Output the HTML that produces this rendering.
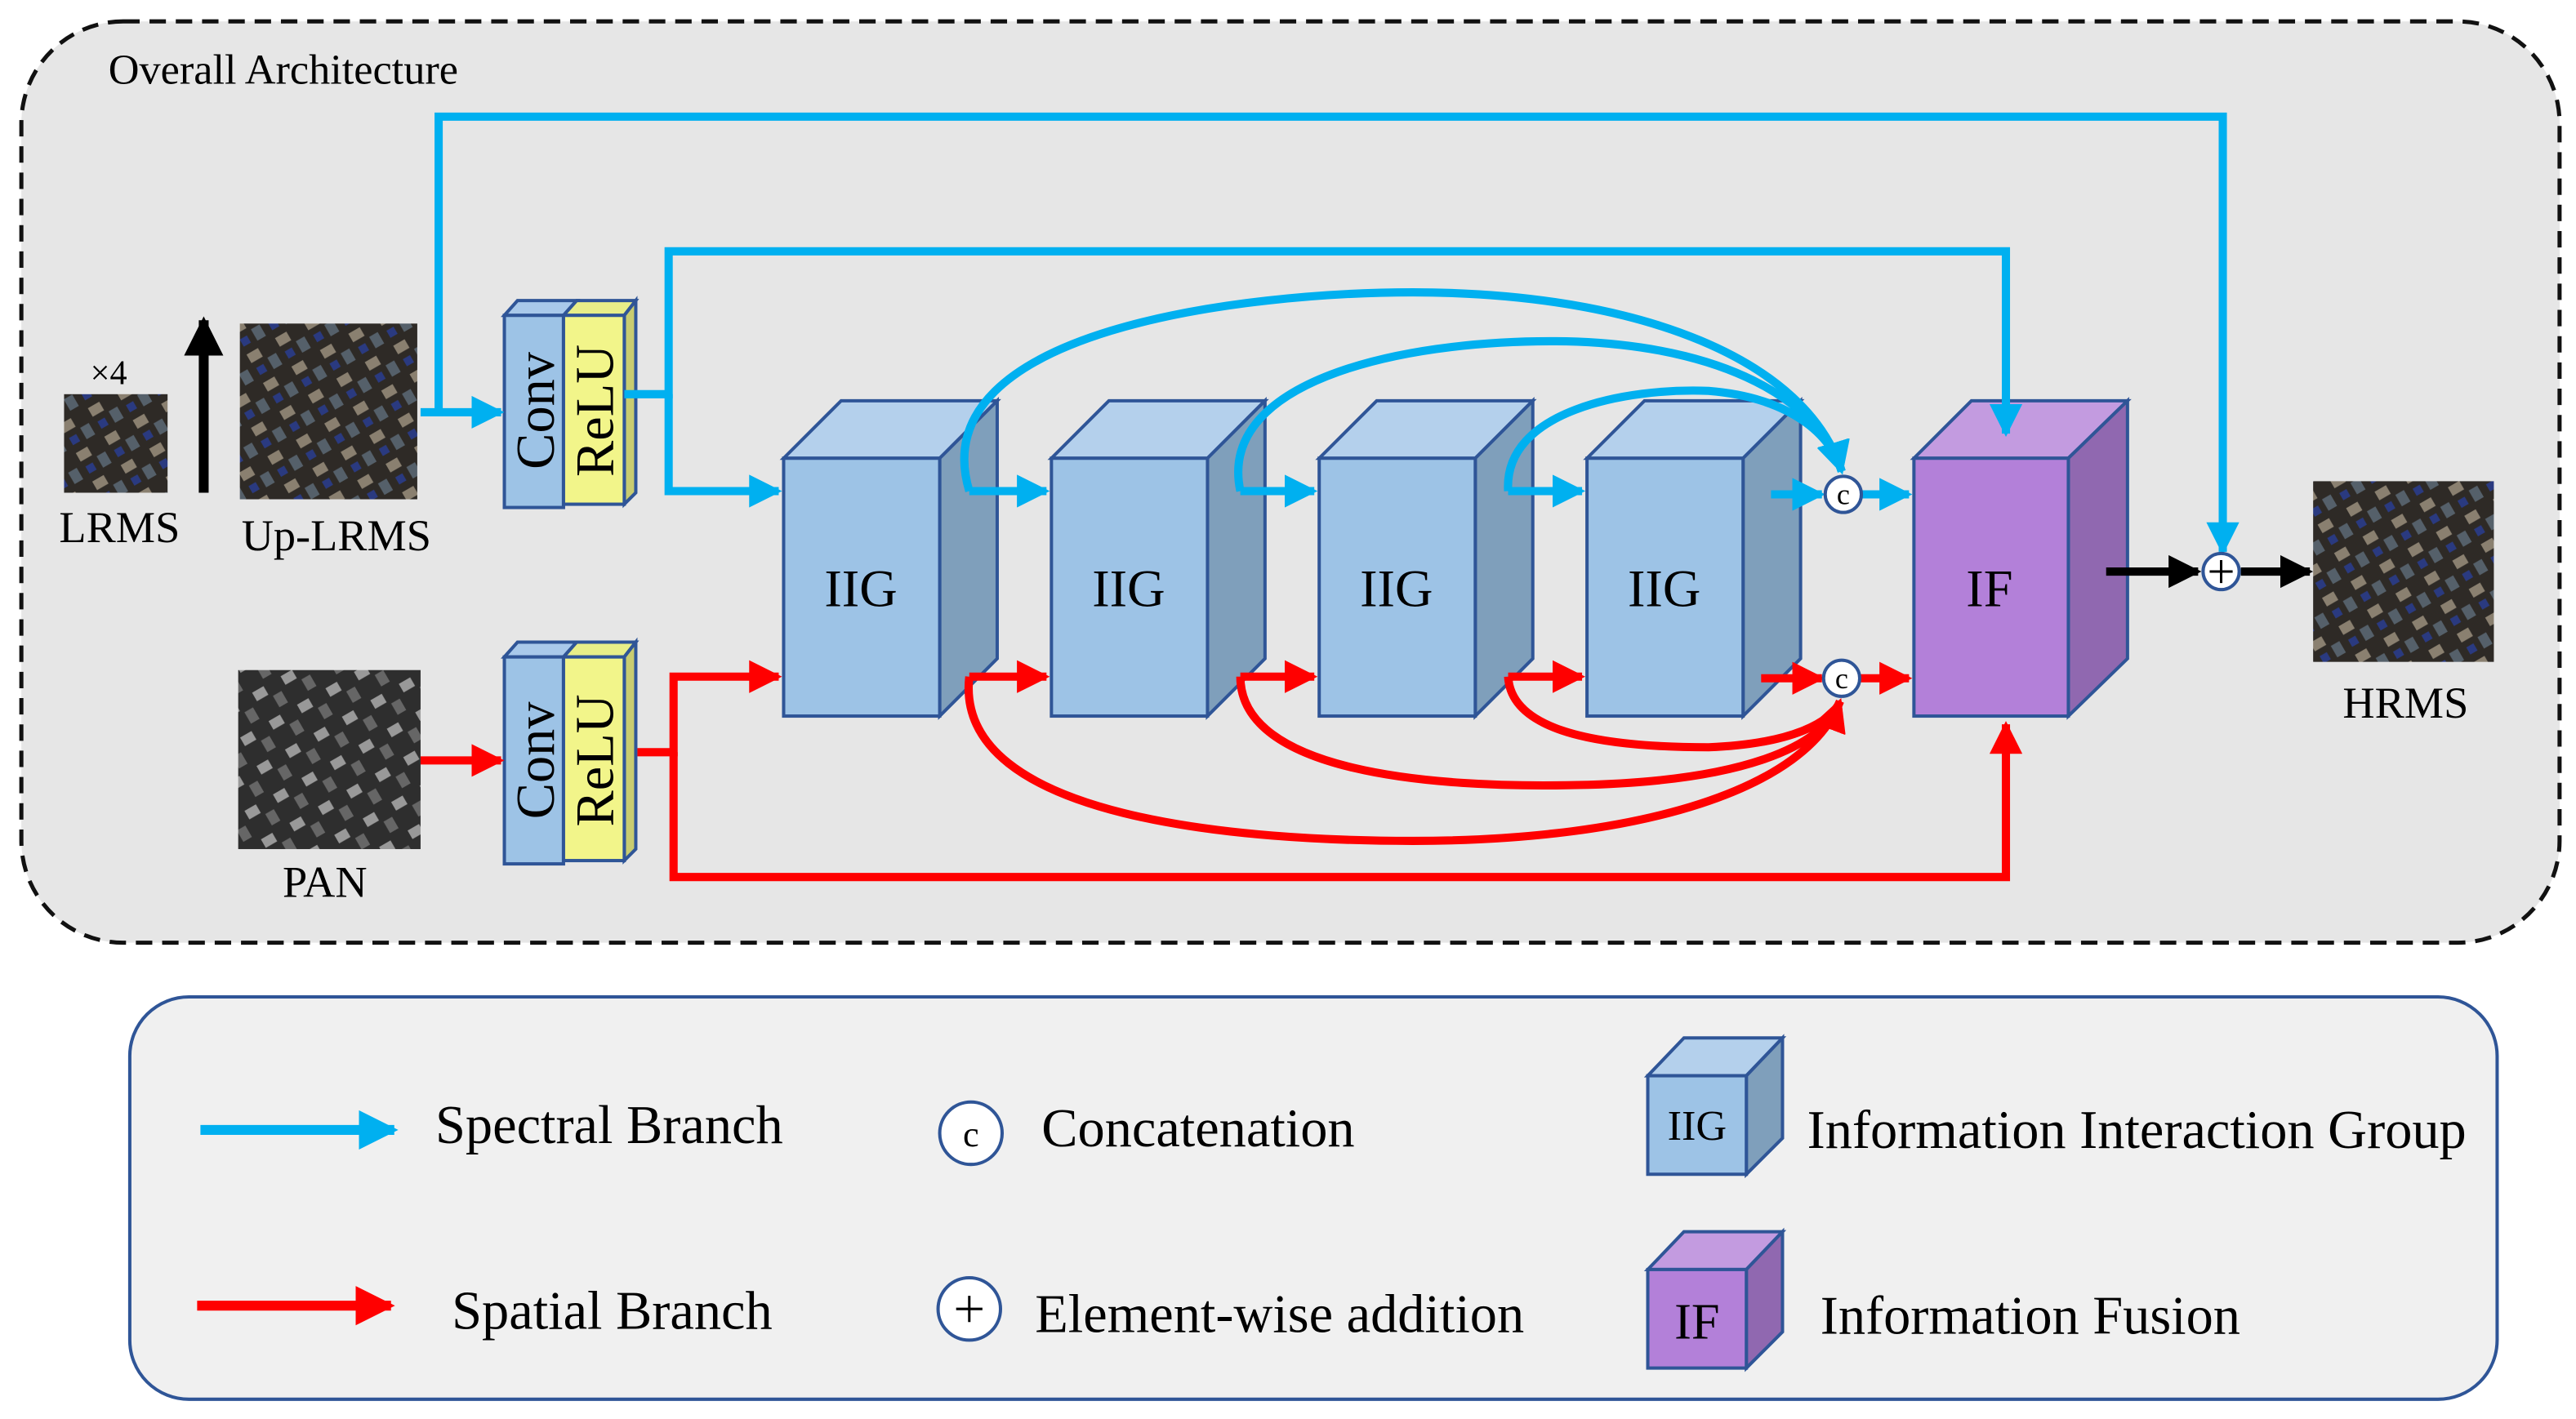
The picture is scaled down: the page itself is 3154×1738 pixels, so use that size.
<!DOCTYPE html>
<html><head><meta charset="utf-8"><style>html,body{margin:0;padding:0;background:#fff}svg{display:block}</style></head>
<body>
<svg width="3154" height="1738" viewBox="0 0 1568 864" xmlns="http://www.w3.org/2000/svg" font-family="'Liberation Serif', serif">
<defs>
<marker id="ab" viewBox="0 0 10 10" refX="9" refY="5" markerWidth="4" markerHeight="4" orient="auto" markerUnits="strokeWidth"><path d="M0,0L10,5L0,10z" fill="#00b0f0"/></marker>
<marker id="ar" viewBox="0 0 10 10" refX="9" refY="5" markerWidth="4" markerHeight="4" orient="auto" markerUnits="strokeWidth"><path d="M0,0L10,5L0,10z" fill="#ff0000"/></marker>
<marker id="ak" viewBox="0 0 10 10" refX="9" refY="5" markerWidth="4" markerHeight="4" orient="auto" markerUnits="strokeWidth"><path d="M0,0L10,5L0,10z" fill="#000"/></marker>
<pattern id="img" width="20" height="20" patternUnits="userSpaceOnUse" patternTransform="rotate(-30)">
<rect width="20" height="20" fill="#2e2a26"/><rect x="2" y="2" width="8" height="6" fill="#8a8070"/><rect x="12" y="10" width="6" height="8" fill="#55606a"/><rect x="3" y="12" width="5" height="5" fill="#2a3a80"/></pattern>
<pattern id="pan" width="20" height="20" patternUnits="userSpaceOnUse" patternTransform="rotate(-30)">
<rect width="20" height="20" fill="#2e2e2e"/><rect x="2" y="2" width="8" height="6" fill="#999"/><rect x="12" y="10" width="6" height="8" fill="#666"/></pattern>
</defs>
<rect x="13" y="13" width="1545" height="561" rx="62" fill="#e6e6e6" stroke="#111" stroke-width="2.5" stroke-dasharray="10,6"/>
<text x="66" y="51" font-size="26">Overall Architecture</text>

<rect x="39" y="240" width="63" height="60" fill="url(#img)"/>
<rect x="146" y="197" width="108" height="107" fill="url(#img)"/>
<rect x="145" y="408" width="111" height="109" fill="url(#pan)"/>
<rect x="1408" y="293" width="110" height="110" fill="url(#img)"/>
<text x="55" y="234" font-size="21">×4</text>
<text x="36" y="330" font-size="27">LRMS</text>
<text x="147" y="335" font-size="27">Up-LRMS</text>
<text x="172" y="546" font-size="27">PAN</text>
<text x="1426" y="437" font-size="27">HRMS</text>
<line x1="124" y1="300" x2="124" y2="195" stroke="#000" stroke-width="6" marker-end="url(#ak)"/>

<g stroke="#2f5597" stroke-width="2">
<polygon points="307,192 315,183 351,183 343,192" fill="#a9c9ea"/>
<polygon points="343,192 351,183 387,183 380,192" fill="#e8ee88"/>
<polygon points="380,192 387,183 387,300 380,307" fill="#c8cc70"/>
<rect x="307" y="192" width="36" height="117" fill="#9dc3e6"/>
<rect x="343" y="192" width="37" height="115" fill="#f2f58a"/>
<polygon points="307,400 315,391 351,391 343,400" fill="#a9c9ea"/>
<polygon points="343,400 351,391 387,391 380,400" fill="#e8ee88"/>
<polygon points="380,400 387,391 387,517 380,524" fill="#c8cc70"/>
<rect x="307" y="400" width="36" height="126" fill="#9dc3e6"/>
<rect x="343" y="400" width="37" height="124" fill="#f2f58a"/>
</g>
<g font-size="33" text-anchor="middle">
<text transform="translate(337,250) rotate(-90)">Conv</text>
<text transform="translate(373,250) rotate(-90)">ReLU</text>
<text transform="translate(337,463) rotate(-90)">Conv</text>
<text transform="translate(373,463) rotate(-90)">ReLU</text>
</g>

<g stroke="#2f5597" stroke-width="2">
<g id="b1"><polygon points="477,279 512,244 607,244 572,279" fill="#b4d0ec"/><polygon points="572,279 607,244 607,401 572,436" fill="#7f9fbb"/><rect x="477" y="279" width="95" height="157" fill="#9dc3e6"/></g>
<use href="#b1" x="163"/><use href="#b1" x="326"/><use href="#b1" x="489"/>
<polygon points="1165,279 1200,244 1295,244 1259,279" fill="#c39be0"/><polygon points="1259,279 1295,244 1295,401 1259,436" fill="#9068b0"/><rect x="1165" y="279" width="94" height="157" fill="#b380d9"/>
</g>
<g font-size="32" text-anchor="middle">
<text x="524" y="369">IIG</text><text x="687" y="369">IIG</text><text x="850" y="369">IIG</text><text x="1013" y="369">IIG</text><text x="1211" y="369">IF</text>
</g>

<g fill="none" stroke="#00b0f0" stroke-width="5">
<line x1="256" y1="251" x2="305" y2="251" marker-end="url(#ab)"/>
<polyline points="267,251 267,71 1353,71 1353,336" marker-end="url(#ab)"/>
<polyline points="380,240 407,240 407,153 1221,153 1221,264" marker-end="url(#ab)"/>
<polyline points="407,240 407,299 474,299" marker-end="url(#ab)"/>
<line x1="590" y1="299" x2="637" y2="299" marker-end="url(#ab)"/>
<line x1="755" y1="299" x2="800" y2="299" marker-end="url(#ab)"/>
<line x1="918" y1="299" x2="963" y2="299" marker-end="url(#ab)"/>
<line x1="1078" y1="301" x2="1109" y2="301" marker-end="url(#ab)"/>
<line x1="1133" y1="301" x2="1162" y2="301" marker-end="url(#ab)"/>
<path d="M590,299 C560,200 760,178 860,178 C1000,178 1100,220 1121,287" marker-end="url(#ab)"/>
<path d="M755,299 C740,230 860,205 960,208 C1060,212 1110,250 1121,287" marker-end="url(#ab)"/>
<path d="M918,299 C915,250 990,236 1040,238 C1090,242 1115,265 1121,287" marker-end="url(#ab)"/>
</g>
<g fill="none" stroke="#ff0000" stroke-width="5">
<line x1="256" y1="463" x2="305" y2="463" marker-end="url(#ar)"/>
<polyline points="388,458 410,458 410,412 474,412" marker-end="url(#ar)"/>
<polyline points="410,458 410,534 1221,534 1221,441" marker-end="url(#ar)"/>
<line x1="590" y1="412" x2="637" y2="412" marker-end="url(#ar)"/>
<line x1="755" y1="412" x2="800" y2="412" marker-end="url(#ar)"/>
<line x1="918" y1="412" x2="963" y2="412" marker-end="url(#ar)"/>
<line x1="1072" y1="413" x2="1109" y2="413" marker-end="url(#ar)"/>
<line x1="1132" y1="413" x2="1162" y2="413" marker-end="url(#ar)"/>
<path d="M590,412 C580,500 760,512 860,512 C1000,512 1100,480 1120,427" marker-end="url(#ar)"/>
<path d="M755,412 C755,470 870,480 960,478 C1060,476 1110,455 1120,427" marker-end="url(#ar)"/>
<path d="M918,412 C920,450 990,455 1040,455 C1090,453 1115,440 1120,427" marker-end="url(#ar)"/>
</g>
<g stroke="#000" stroke-width="5">
<line x1="1282" y1="348" x2="1338" y2="348" marker-end="url(#ak)"/>
<line x1="1364" y1="348" x2="1406" y2="348" marker-end="url(#ak)"/>
</g>
<g stroke="#2f5597" stroke-width="2" fill="#fff">
<circle cx="1122" cy="301" r="11"/><circle cx="1121" cy="413" r="11"/><circle cx="1352" cy="348" r="11"/>
</g>
<g font-size="18" text-anchor="middle"><text x="1122" y="307">c</text><text x="1121" y="419">c</text></g>
<path d="M1345,348h14M1352,341v14" stroke="#000" stroke-width="1.5"/>

<rect x="79" y="607" width="1441" height="245" rx="36" fill="#f0f0f0" stroke="#2f5597" stroke-width="2"/>
<line x1="122" y1="688" x2="240" y2="688" stroke="#00b0f0" stroke-width="6" marker-end="url(#ab)"/>
<line x1="120" y1="795" x2="238" y2="795" stroke="#ff0000" stroke-width="6" marker-end="url(#ar)"/>
<g font-size="33">
<text x="265" y="696">Spectral Branch</text>
<text x="275" y="809">Spatial Branch</text>
<text x="634" y="698">Concatenation</text>
<text x="630" y="811">Element-wise addition</text>
<text x="1100" y="699">Information Interaction Group</text>
<text x="1108" y="812">Information Fusion</text>
</g>
<g stroke="#2f5597" stroke-width="2" fill="#fff"><circle cx="591" cy="690" r="19"/><circle cx="590" cy="797" r="19"/></g>
<text x="591" y="698" font-size="22" text-anchor="middle">c</text>
<path d="M582,797h16M590,789v16" stroke="#000" stroke-width="1.5"/>
<g stroke="#2f5597" stroke-width="2">
<polygon points="1003,655 1025,632 1085,632 1063,655" fill="#b4d0ec"/><polygon points="1063,655 1085,632 1085,693 1063,715" fill="#7f9fbb"/><rect x="1003" y="655" width="60" height="60" fill="#9dc3e6"/>
<polygon points="1003,773 1025,750 1085,750 1063,773" fill="#c39be0"/><polygon points="1063,773 1085,750 1085,811 1063,833" fill="#9068b0"/><rect x="1003" y="773" width="60" height="60" fill="#b380d9"/>
</g>
<text x="1033" y="694" font-size="26" text-anchor="middle">IIG</text>
<text x="1033" y="815" font-size="31" text-anchor="middle">IF</text>
</svg>
</body></html>
